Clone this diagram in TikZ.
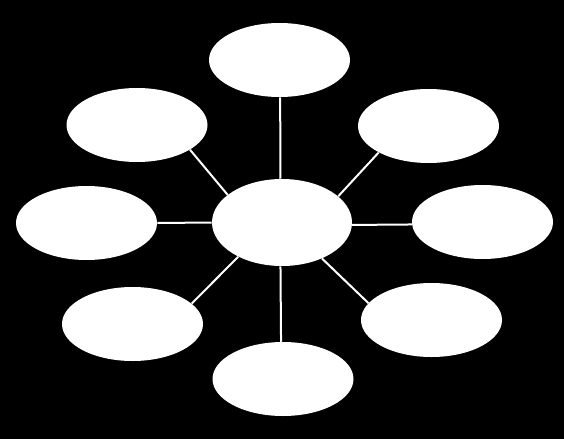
\documentclass[tikz,border=0pt]{standalone}
\usepackage{tikz}
\usetikzlibrary{shapes.geometric}
\tikzset{
    bubble/.style={ellipse, fill=white, draw=none, inner sep=0pt, minimum width=105.75pt, minimum height=55.5pt},
    hub/.style={bubble, minimum width=105pt, minimum height=65.25pt},
    spoke/.style={white, line width=1.5pt}
}

\begin{document}
\begin{tikzpicture}[x=0.75pt, y=-0.75pt]
    % Background
    \fill[black] (0,0) rectangle (564,439);

    % Centre
    \node[hub] (hub) at (282,222.5) {};

    % Outer ellipses
    \node[bubble] (top) at (279.5,60) {};
    \node[bubble] (ur) at (428.5,126) {};
    \node[bubble] (right) at (482.5,222) {};
    \node[bubble] (lr) at (431.5,320) {};
    \node[bubble] (bottom) at (283,379) {};
    \node[bubble] (ll) at (132.5,324) {};
    \node[bubble] (left) at (86.5,223) {};
    \node[bubble] (ul) at (137,125) {};

    % Spokes
    \draw[spoke] (hub.92.7) -- (top.-89);
    \draw[spoke] (hub.25) -- (ur.208.6);
    \draw[spoke] (hub.-2) -- (right.182.4);
    \draw[spoke] (hub.-42.6) -- (lr.165.2);
    \draw[spoke] (hub.268.7) -- (bottom.93);
    \draw[spoke] (hub.218.6) -- (ll.19.1);
    \draw[spoke] (hub.180) -- (left.0);
    \draw[spoke] (hub.153) -- (ul.-25.3);

\end{tikzpicture}
\end{document}
